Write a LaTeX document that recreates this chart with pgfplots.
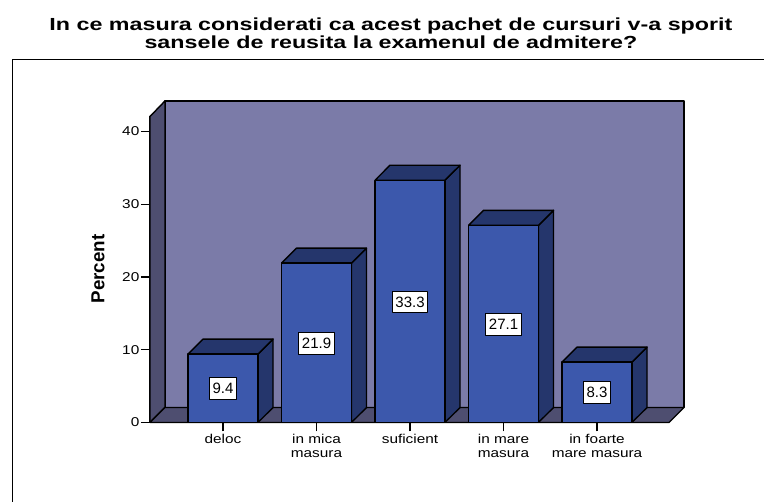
\documentclass[border=0pt]{standalone}
\usepackage{pgfplots}
\pgfplotsset{compat=1.18}
\usepackage{fontspec}
\setmainfont[FakeStretch=1.2]{Liberation Sans}
\newfontfamily\titlefont[FakeStretch=1.33]{Liberation Sans}
\newfontfamily\ylabfont{Liberation Sans}
\definecolor{wallc}{HTML}{7B7BA8}
\definecolor{sidewall}{HTML}{4E4E70}
\definecolor{front}{HTML}{3C58AC}
\definecolor{dark}{HTML}{25366C}
\begin{document}
\begin{tikzpicture}[line join=round]
\useasboundingbox (-150pt,-79.5pt) rectangle (614pt,422.5pt);
\draw[line width=1.2pt] (-137.5pt,-80pt) -- (-137.5pt,363pt) -- (614pt,363pt);
\node[align=center,font={\titlefont\bfseries\fontsize{17.5}{18}\selectfont},anchor=center] at (241pt,389pt) {In ce masura considerati ca acest pachet de cursuri v-a sporit\\sansele de reusita la examenul de admitere?};
\begin{axis}[
  scale only axis, width=519pt, height=306pt,
  xmin=-0.781, xmax=4.770, ymin=0, ymax=42.06,
  clip=false,
  axis x line=bottom, axis y line=left,
  axis line style={-, line width=1.4pt},
  tick align=outside,
  major tick length=9pt,
  every tick/.style={black, line width=1.3pt},
  xtick={0,1,2,3,4},
  xticklabels={deloc,{in mica\\masura},suficient,{in mare\\masura},{in foarte\\mare masura}},
  xticklabel style={align=center,font=\fontsize{12.8}{13.2}\selectfont,inner sep=3pt},
  ytick={0,10,20,30,40},
  yticklabel style={font=\fontsize{12.8}{14}\selectfont,inner sep=1.5pt},
  /pgf/number format/assume math mode=true,
  ylabel={Percent},
  ylabel style={at={(axis description cs:-0.1002,0.5016)},anchor=center,font={\ylabfont\bfseries\fontsize{18.8}{20}\selectfont}},
]
% walls and floor
\addplot[fill=wallc,draw=black,line width=1.4pt] coordinates {(-0.6206,2.062) (-0.6206,44.2) (4.9304,44.2) (4.9304,2.062) (-0.6206,2.062)};
\addplot[fill=sidewall,draw=black,line width=1.4pt] coordinates {(-0.781,0) (-0.781,42.06) (-0.6206,44.2) (-0.6206,2.062) (-0.781,0)};
\addplot[fill=sidewall,draw=black,line width=1.4pt] coordinates {(-0.781,0) (-0.6206,2.062) (4.9304,2.062) (4.770,0) (-0.781,0)};
% side faces
\addplot[fill=dark,draw=black,line width=1.4pt] coordinates {(0.374,0) (0.535,2.062) (0.535,11.462) (0.374,9.4) (0.374,0)};
\addplot[fill=dark,draw=black,line width=1.4pt] coordinates {(1.374,0) (1.535,2.062) (1.535,23.962) (1.374,21.9) (1.374,0)};
\addplot[fill=dark,draw=black,line width=1.4pt] coordinates {(2.374,0) (2.535,2.062) (2.535,35.362) (2.374,33.3) (2.374,0)};
\addplot[fill=dark,draw=black,line width=1.4pt] coordinates {(3.374,0) (3.535,2.062) (3.535,29.162) (3.374,27.1) (3.374,0)};
\addplot[fill=dark,draw=black,line width=1.4pt] coordinates {(4.374,0) (4.535,2.062) (4.535,10.362) (4.374,8.3) (4.374,0)};
% top faces
\addplot[fill=dark,draw=black,line width=1.4pt] coordinates {(-0.374,9.4) (-0.214,11.462) (0.535,11.462) (0.374,9.4) (-0.374,9.4)};
\addplot[fill=dark,draw=black,line width=1.4pt] coordinates {(0.626,21.9) (0.786,23.962) (1.535,23.962) (1.374,21.9) (0.626,21.9)};
\addplot[fill=dark,draw=black,line width=1.4pt] coordinates {(1.626,33.3) (1.786,35.362) (2.535,35.362) (2.374,33.3) (1.626,33.3)};
\addplot[fill=dark,draw=black,line width=1.4pt] coordinates {(2.626,27.1) (2.786,29.162) (3.535,29.162) (3.374,27.1) (2.626,27.1)};
\addplot[fill=dark,draw=black,line width=1.4pt] coordinates {(3.626,8.3) (3.786,10.362) (4.535,10.362) (4.374,8.3) (3.626,8.3)};
% front faces
\addplot[ybar,bar width=70pt,bar shift=0pt,fill=front,draw=black,line width=1.4pt] coordinates {(0,9.4) (1,21.9) (2,33.3) (3,27.1) (4,8.3)};
% value labels
\addplot[only marks,mark=none,point meta=explicit,
  nodes near coords,
  nodes near coords style={anchor=center,fill=white,draw=black,line width=0.9pt,inner xsep=3pt,inner ysep=5.5pt,font=\ylabfont\fontsize{15}{16}\selectfont,/pgf/number format/fixed,/pgf/number format/fixed zerofill,/pgf/number format/precision=1,/pgf/number format/assume math mode=true},
] coordinates {(0,4.65) [9.4] (1,10.9) [21.9] (2,16.55) [33.3] (3,13.5) [27.1] (4,4.1) [8.3]};
\end{axis}
\end{tikzpicture}
\end{document}
